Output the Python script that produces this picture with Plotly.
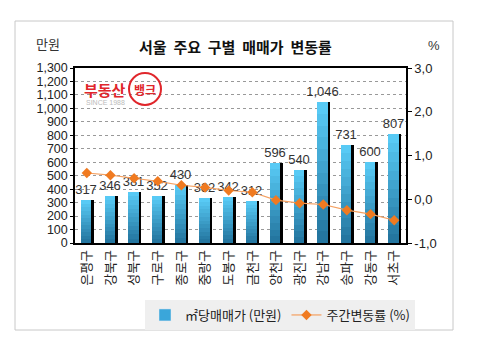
import plotly.graph_objects as go

districts = ["은평구", "강북구", "성북구", "구로구", "종로구", "중랑구", "도봉구",
             "금천구", "양천구", "광진구", "강남구", "송파구", "강동구", "서초구"]
price = [317, 346, 381, 352, 430, 332, 342, 312, 596, 540, 1046, 731, 600, 807]
weekly_change = [0.60, 0.55, 0.48, 0.41, 0.32, 0.27, 0.20, 0.16, -0.02, -0.09, -0.12, -0.25, -0.34, -0.48]
right_tickvals = [-1, 0, 1, 2, 3]
right_ticktext = ["-1,0", "0,0", "1,0", "2,0", "3,0"]

FONT = "Liberation Sans, Arial, Noto Sans CJK KR"
KFONT = "Noto Sans CJK KR"

L, R, T, B = 75, 74, 68, 121
W, H = 480, 364
pw, ph = W - L - R, H - T - B

def px(x):
    return (x - L) / pw

def py(y):
    return (H - B - y) / ph

fig = go.Figure()

# shadow bars
fig.add_trace(go.Bar(x=districts, y=price, marker=dict(color="#000000", line_width=0),
                     offset=-0.13, width=0.43, showlegend=False, hoverinfo="skip"))

# gradient bars (overlaid steps, light top -> dark bottom)
top_rgb = (88, 202, 245)
bot_rgb = (36, 118, 160)
N = 12
for k in range(N):
    f = 1 - k / N
    t = k / (N - 1)
    c = tuple(int(top_rgb[i] + (bot_rgb[i] - top_rgb[i]) * t) for i in range(3))
    col = "rgb(%d,%d,%d)" % c
    is_first = k == 0
    fig.add_trace(go.Bar(
        x=districts, y=[v * f for v in price],
        marker=dict(color=col, line_width=0),
        offset=-0.25, width=0.44,
        showlegend=False, hoverinfo="skip",
        text=[f"{v:,}" for v in price] if is_first else None,
        textposition="outside" if is_first else None,
        constraintext="none",
        cliponaxis=False,
        textfont=dict(family=FONT, size=13, color="#333333"),
    ))

# legend proxy for bars
fig.add_trace(go.Bar(x=[None], y=[None], name="㎡당매매가 (만원)",
                     marker=dict(color="#3AA6DA"), legendrank=1))

fig.add_trace(go.Scatter(
    x=districts, y=weekly_change, yaxis="y2", mode="lines+markers",
    name="주간변동률 (%)", legendrank=2,
    line=dict(color="#F5A060", width=1.2),
    marker=dict(symbol="diamond", size=8, color="#F07A20"),
))

fig.update_layout(
    width=W, height=H,
    margin=dict(l=L, r=R, t=T, b=B, autoexpand=False),
    paper_bgcolor="white", plot_bgcolor="white",
    barmode="overlay", bargap=0,
    font=dict(family=FONT, size=12, color="#222222"),
    xaxis=dict(type="category", range=[-0.5, 13.5], tickangle=-90,
               showline=True, linecolor="#000000", linewidth=1.5, mirror=True,
               ticks="", tickfont=dict(family=KFONT, size=13, color="#222222"),
               showgrid=False, automargin=False),
    yaxis=dict(range=[0, 1300], dtick=100, tickformat=",d",
               showline=True, linecolor="#000000", linewidth=1.5,
               ticks="outside", ticklen=3, tickcolor="#000000",
               showgrid=True, gridcolor="#999999", griddash="dot", gridwidth=1,
               tickfont=dict(family=FONT, size=12.5, color="#222222"), zeroline=False,
               automargin=False),
    yaxis2=dict(range=[-1, 3], overlaying="y", side="right",
                tickvals=right_tickvals, ticktext=right_ticktext,
                showline=True, linecolor="#000000", linewidth=1.5,
                ticks="outside", ticklen=4, tickcolor="#000000",
                showgrid=False, zeroline=False, automargin=False,
                tickfont=dict(family=FONT, size=13, color="#222222")),
    legend=dict(orientation="h", x=px(145), y=py(300), xanchor="left", yanchor="top",
                bgcolor="#EFEFEF", borderwidth=0,
                font=dict(family=KFONT, size=13, color="#222222"),
                traceorder="normal", itemwidth=30, tracegroupgap=0),
    showlegend=True,
)

# outer border
fig.add_shape(type="rect", xref="paper", yref="paper",
              x0=px(15), x1=px(453), y0=py(330), y1=py(21),
              line=dict(color="#C8C8C8", width=1), fillcolor="rgba(0,0,0,0)", layer="below")

def note(text, x, y, size, color, family=KFONT):
    fig.add_annotation(text=text, xref="paper", yref="paper", x=px(x), y=py(y),
                       xanchor="center", yanchor="middle", showarrow=False,
                       font=dict(family=family, size=size, color=color))

# title and unit labels
note("<b>서울  주요  구별  매매가  변동률</b>", 235, 46, 15, "#111111")
note("만원", 48, 43, 13, "#333333")
note("%", 434, 45, 13, "#333333", FONT)

# logo
note("<b>부동산</b>", 105, 89, 15, "#E0262B")
fig.add_shape(type="circle", xref="paper", yref="paper",
              x0=px(129), x1=px(161), y0=py(105), y1=py(73),
              line=dict(color="#E0262B", width=2))
note("<b>뱅크</b>", 145, 89, 12, "#E0262B")
note("SINCE 1988", 105, 102, 7, "#BBBBBB", FONT)

fig.write_html("out.html", config={"displayModeBar": False},
               post_script="document.body.style.margin='0';")
